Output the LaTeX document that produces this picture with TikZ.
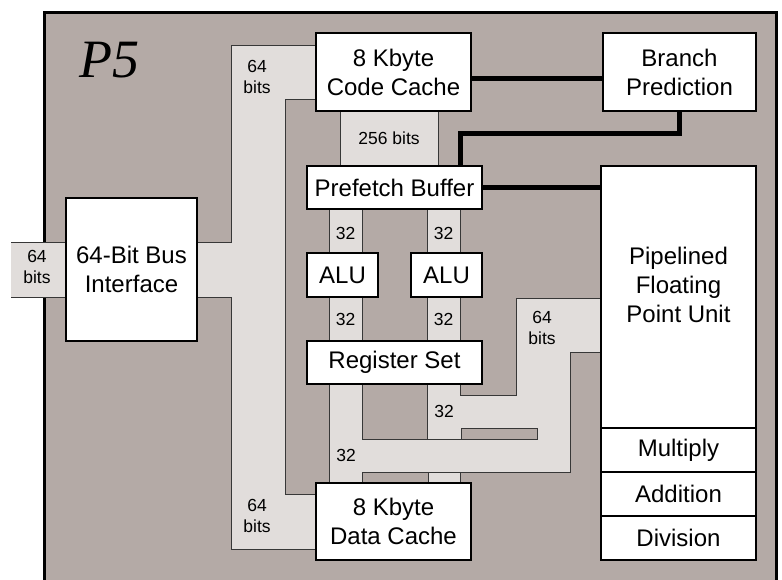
\documentclass[tikz,border=0pt]{standalone}
\usepackage{fontspec}
\setmainfont{Liberation Sans}
\newfontfamily\pfont{Liberation Serif}
\definecolor{darkbg}{RGB}{180,170,166}
\definecolor{buslight}{RGB}{225,221,219}
\definecolor{busedge}{RGB}{55,55,55}
\begin{document}
\begin{tikzpicture}[x=1pt,y=-1pt,
  box/.style={draw=black,line width=1.3pt,fill=white,inner sep=0pt,align=center,font=\fontsize{24}{29}\selectfont},
  txt/.style={inner sep=0pt,align=center,font=\fontsize{24}{29}\selectfont},
  lbl/.style={font=\fontsize{17.5}{21}\selectfont,align=center,inner sep=0pt},
  busfill/.style={fill=buslight},
  busline/.style={draw=busedge,line width=1pt},
  ctrl/.style={draw=black,line width=5pt}
]
\useasboundingbox (0,0) rectangle (782,579);
% chip frame
\fill[darkbg] (44,12) rectangle (776,600);
\draw[line width=3pt] (44,600) -- (44,12) -- (776,12) -- (776,600);
% external stub
\fill[busfill] (11,242) rectangle (66,297);
\draw[busline] (11,242) -- (66,242) (11,297) -- (66,297);
% main 64-bit bus
\fill[busfill] (197,242) -- (231,242) -- (231,45) -- (316,45) -- (316,99) -- (285,99) -- (285,494) -- (316,494) -- (316,549) -- (231,549) -- (231,297) -- (197,297) -- cycle;
\draw[busline] (197,242) -- (231,242) -- (231,45) -- (316,45);
\draw[busline] (316,99) -- (285,99) -- (285,494) -- (316,494);
\draw[busline] (316,549) -- (231,549) -- (231,297) -- (197,297);
% 256-bit bus
\fill[busfill] (340,111) rectangle (438,166);
\draw[busline] (340,111) -- (340,166) (438,111) -- (438,166);
% 32-bit buses
\foreach \a/\b in {329/362,427/460}{
  \fill[busfill] (\a,209) rectangle (\b,253);
  \draw[busline] (\a,209) -- (\a,253) (\b,209) -- (\b,253);
  \fill[busfill] (\a,297) rectangle (\b,341);
  \draw[busline] (\a,297) -- (\a,341) (\b,297) -- (\b,341);
}
% lower bus network
\fill[busfill] (329,384) -- (329,483) -- (362,483) -- (362,472) -- (428,472) -- (428,483) -- (460,483) -- (460,472) -- (570,472) -- (570,352) -- (601,352) -- (601,298) -- (516,298) -- (516,395) -- (460,395) -- (460,384) -- (427,384) -- (427,439) -- (362,439) -- (362,384) -- cycle;
\fill[darkbg] (461,428) rectangle (537,439);
\draw[busline] (329,384) -- (329,483);
\draw[busline] (362,384) -- (362,439) -- (537,439) -- (537,428) -- (461,428) -- (461,439);
\draw[busline] (427,384) -- (427,439);
\draw[busline] (460,384) -- (460,395) -- (516,395) -- (516,298) -- (601,298);
\draw[busline] (601,352) -- (570,352) -- (570,472) -- (362,472) -- (362,483);
\draw[busline] (428,472) -- (428,483) (460,472) -- (460,483);
% boxes
\node[box,minimum width=131pt,minimum height=143pt] (bus) at (131.5,269.5) {64-Bit Bus\\Interface};
\node[box,minimum width=155pt,minimum height=78pt] (cc) at (393.5,72) {8 Kbyte\\Code Cache};
\node[box,minimum width=153pt,minimum height=78pt] (bp) at (679.5,72) {Branch\\Prediction};
\node[box,minimum width=175pt,minimum height=43pt] (pf) at (394.5,187.5) {Prefetch Buffer};
\node[box,minimum width=71pt,minimum height=44pt] (alu1) at (342.5,275) {ALU};
\node[box,minimum width=71pt,minimum height=44pt] (alu2) at (446.5,275) {ALU};
\node[box,minimum width=175pt,minimum height=43pt] (rs) at (394.5,362.5) {Register Set};
\node[box,minimum width=155pt,minimum height=77pt] (dc) at (393.5,521.5) {8 Kbyte\\Data Cache};
\node[box,minimum width=155pt,minimum height=262pt] (fpu) at (678.5,297) {};
\node[txt] (fput) at (678.5,285) {Pipelined\\Floating\\Point Unit};
\node[box,minimum width=155pt,minimum height=44pt] (mul) at (678.5,450) {Multiply};
\node[box,minimum width=155pt,minimum height=44pt] (add) at (678.5,494) {Addition};
\node[box,minimum width=155pt,minimum height=44pt] (div) at (678.5,538) {Division};
% control lines
\draw[ctrl] ([yshift=-6pt]cc.east) -- ([yshift=-6pt]bp.west);
\coordinate (k1) at (460,133);
\draw[ctrl] (bp.south) |- (k1) -- (k1 |- pf.north);
\draw[ctrl] (pf.east) -- (pf.east -| fpu.west);
% labels
\node[font=\pfont\itshape\fontsize{54}{54}\selectfont,inner sep=0pt] (p5) at (109,60) {P5};
\node[lbl] (lstub) at (37,267) {64\\bits};
\node[lbl] (ltop) at (257,77) {64\\bits};
\node[lbl] (lbot) at (257,516) {64\\bits};
\node[lbl] (lfpu) at (542,328) {64\\bits};
\node[lbl] (l256) at (389,138) {256 bits};
\node[lbl] (l1) at (345.5,233) {32};
\node[lbl] (l2) at (443.5,233) {32};
\node[lbl] (l3) at (345.5,319) {32};
\node[lbl] (l4) at (443.5,319) {32};
\node[lbl] (l5) at (444,411) {32};
\node[lbl] (l6) at (346,455) {32};
\end{tikzpicture}
\end{document}
